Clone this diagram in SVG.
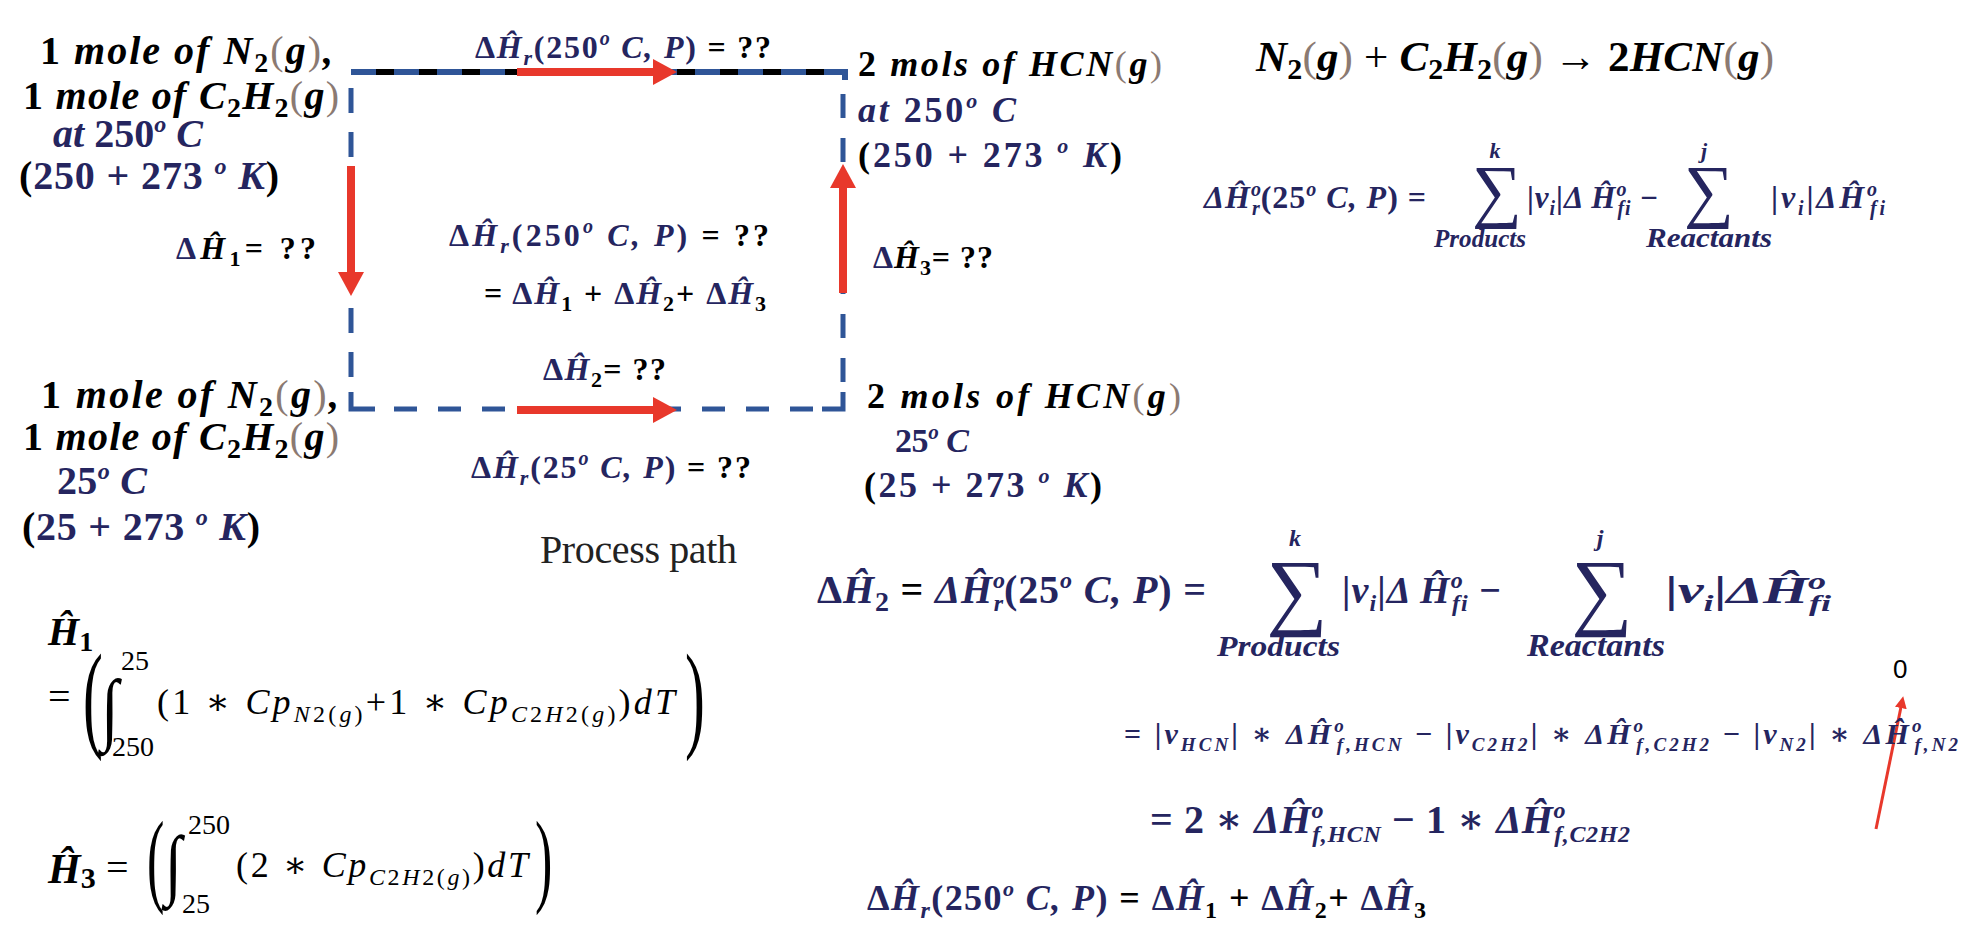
<svg xmlns="http://www.w3.org/2000/svg" width="1970" height="934" viewBox="0 0 1970 934">
<defs>
<style>
.m{font-family:"Liberation Serif","DejaVu Serif",serif;font-weight:bold;font-style:italic}
.r{font-family:"Liberation Serif","DejaVu Serif",serif;font-weight:normal;font-style:italic}
.k{fill:#000}
.n{fill:#25255f}
.b{fill:#8b7a72;font-weight:normal;font-style:normal}
.u{font-style:normal}
.big{font-family:"Liberation Serif","DejaVu Serif",serif;font-weight:normal;font-style:normal}
.dash{fill:none;stroke:#2f5597;stroke-width:5}
.red{fill:none;stroke:#e8382b;stroke-width:8}
</style>
<marker id="ah" markerUnits="userSpaceOnUse" markerWidth="26" markerHeight="26" viewBox="0 0 26 26" refX="2" refY="13" orient="auto"><path d="M0,0 L24,13 L0,26 Z" fill="#e8382b"/></marker>
<marker id="ahs" markerUnits="userSpaceOnUse" markerWidth="12" markerHeight="12" viewBox="0 0 12 12" refX="1" refY="6" orient="auto"><path d="M0,0 L12,6 L0,12 Z" fill="#e8382b"/></marker>
</defs>
<rect width="1970" height="934" fill="#fff"/>

<g id="connectors">
<path class="dash" d="M351,88 V384" stroke-dasharray="25 19"/>
<path class="dash" d="M351,392 V409 H375"/>
<path class="dash" d="M394,409 H820" stroke-dasharray="23 21"/>
<path class="dash" d="M822,409 H843 V392"/>
<path class="dash" d="M843,382 V94" stroke-dasharray="24 20"/>
<path d="M351,72 H845 V80" fill="none" stroke="#2f5597" stroke-width="6"/>
<path d="M376,72 H840" fill="none" stroke="#000" stroke-width="6" stroke-dasharray="18 25"/>
<path class="red" d="M517,72 H655" marker-end="url(#ah)"/>
<path class="red" d="M517,410 H655" marker-end="url(#ah)"/>
<path class="red" d="M351,166 V274" marker-end="url(#ah)"/>
<path class="red" d="M843,293 V186" marker-end="url(#ah)"/>
<path d="M1876,829 L1901,707" fill="none" stroke="#e8382b" stroke-width="3" marker-end="url(#ahs)"/>
</g>

<g id="node-reactants-250">
<text class="m k" x="40" y="64" font-size="40" textLength="293"><tspan class="u">1</tspan> mole of N<tspan class="u" font-size="28" dy="8">2</tspan><tspan class="b" dy="-8">(</tspan>g<tspan class="b">)</tspan>,</text>
<text class="m k" x="23" y="109" font-size="40" textLength="316"><tspan class="u">1</tspan> mole of C<tspan class="u" font-size="28" dy="8">2</tspan><tspan dy="-8">H</tspan><tspan class="u" font-size="28" dy="8">2</tspan><tspan class="b" dy="-8">(</tspan>g<tspan class="b">)</tspan></text>
<text class="m n" x="53" y="147" font-size="40" textLength="150">at <tspan class="u">250</tspan><tspan font-size="24" dy="-15">o</tspan><tspan dy="15"> C</tspan></text>
<text class="m k" x="19" y="189" font-size="40" textLength="260"><tspan class="u">(</tspan><tspan class="n u">250 + 273 </tspan><tspan class="n" font-size="24" dy="-15">o</tspan><tspan class="n" dy="15"> K</tspan><tspan class="u">)</tspan></text>
</g>

<g id="node-reactants-25">
<text class="m k" x="41" y="408" font-size="40" textLength="298"><tspan class="u">1</tspan> mole of N<tspan class="u" font-size="28" dy="8">2</tspan><tspan class="b" dy="-8">(</tspan>g<tspan class="b">)</tspan>,</text>
<text class="m k" x="23" y="450" font-size="40" textLength="316"><tspan class="u">1</tspan> mole of C<tspan class="u" font-size="28" dy="8">2</tspan><tspan dy="-8">H</tspan><tspan class="u" font-size="28" dy="8">2</tspan><tspan class="b" dy="-8">(</tspan>g<tspan class="b">)</tspan></text>
<text class="m n" x="57" y="494" font-size="40" textLength="90"><tspan class="u">25</tspan><tspan font-size="24" dy="-15">o</tspan><tspan dy="15"> C</tspan></text>
<text class="m k" x="22" y="540" font-size="40" textLength="238"><tspan class="u">(</tspan><tspan class="n u">25 + 273 </tspan><tspan class="n" font-size="24" dy="-15">o</tspan><tspan class="n" dy="15"> K</tspan><tspan class="u">)</tspan></text>
</g>

<g id="node-products-250">
<text class="m k" x="858" y="76" font-size="36" textLength="304"><tspan class="u">2</tspan> mols of HCN<tspan class="b">(</tspan>g<tspan class="b">)</tspan></text>
<text class="m n" x="858" y="122" font-size="36" textLength="158">at <tspan class="u">250</tspan><tspan font-size="22" dy="-14">o</tspan><tspan dy="14"> C</tspan></text>
<text class="m k" x="858" y="167" font-size="36" textLength="264"><tspan class="u">(</tspan><tspan class="n u">250 + 273 </tspan><tspan class="n" font-size="22" dy="-14">o</tspan><tspan class="n" dy="14"> K</tspan><tspan class="u">)</tspan></text>
</g>

<g id="node-products-25">
<text class="m k" x="867" y="408" font-size="36" textLength="314"><tspan class="u">2</tspan> mols of HCN<tspan class="b">(</tspan>g<tspan class="b">)</tspan></text>
<text class="m n" x="895" y="452" font-size="34" textLength="74"><tspan class="u">25</tspan><tspan font-size="21" dy="-13">o</tspan><tspan dy="13"> C</tspan></text>
<text class="m k" x="864" y="497" font-size="36" textLength="238"><tspan class="u">(</tspan><tspan class="n u">25 + 273 </tspan><tspan class="n" font-size="22" dy="-14">o</tspan><tspan class="n" dy="14"> K</tspan><tspan class="u">)</tspan></text>
</g>

<g id="edge-labels">
<text class="m n" x="475" y="58" font-size="32" textLength="296"><tspan class="u">Δ</tspan>Ĥ<tspan font-size="22" dy="7">r</tspan><tspan class="u" dy="-7">(250</tspan><tspan font-size="20" dy="-13">o</tspan><tspan dy="13"> C, P</tspan><tspan class="u">)</tspan><tspan class="k u"> = ??</tspan></text>
<text class="m k" x="176" y="259" font-size="32" textLength="140"><tspan class="n u">Δ</tspan>Ĥ<tspan class="u" font-size="22" dy="7">1</tspan><tspan class="u" dy="-7">= ??</tspan></text>
<text class="m k" x="873" y="268" font-size="32" textLength="120"><tspan class="n u">Δ</tspan>Ĥ<tspan class="u" font-size="22" dy="7">3</tspan><tspan class="u" dy="-7">= ??</tspan></text>
<text class="m k" x="543" y="380" font-size="32" textLength="123"><tspan class="n u">Δ</tspan><tspan class="n">Ĥ</tspan><tspan class="u" font-size="22" dy="7">2</tspan><tspan class="u" dy="-7">= ??</tspan></text>
<text class="m n" x="471" y="478" font-size="32" textLength="280"><tspan class="u">Δ</tspan>Ĥ<tspan font-size="22" dy="7">r</tspan><tspan class="u" dy="-7">(25</tspan><tspan font-size="20" dy="-13">o</tspan><tspan dy="13"> C, P</tspan><tspan class="u">)</tspan><tspan class="k u"> = ??</tspan></text>
</g>

<g id="center-note">
<text class="m n" x="449" y="246" font-size="32" textLength="320"><tspan class="u">Δ</tspan>Ĥ<tspan font-size="22" dy="7">r</tspan><tspan class="u" dy="-7">(250</tspan><tspan font-size="20" dy="-13">o</tspan><tspan dy="13"> C, P</tspan><tspan class="u">)</tspan><tspan class="k u"> = ??</tspan></text>
<text class="m n" x="484" y="304" font-size="32" textLength="282"><tspan class="k u">= </tspan><tspan class="u">Δ</tspan>Ĥ<tspan class="u k" font-size="22" dy="7">1</tspan><tspan class="u k" dy="-7"> + </tspan><tspan class="u">Δ</tspan>Ĥ<tspan class="u k" font-size="22" dy="7">2</tspan><tspan class="u k" dy="-7">+ </tspan><tspan class="u">Δ</tspan>Ĥ<tspan class="u k" font-size="22" dy="7">3</tspan></text>
</g>

<g id="title">
<text x="540" y="563" font-family="Liberation Serif, serif" font-size="40" fill="#222" textLength="197">Process path</text>
</g>

<g id="reaction">
<text class="m k" x="1256" y="71" font-size="43" textLength="518">N<tspan class="u" font-size="30" dy="8">2</tspan><tspan class="b" dy="-8">(</tspan>g<tspan class="b">)</tspan><tspan class="u" font-weight="normal"> + </tspan>C<tspan class="u" font-size="30" dy="8">2</tspan><tspan dy="-8">H</tspan><tspan class="u" font-size="30" dy="8">2</tspan><tspan class="b" dy="-8">(</tspan>g<tspan class="b">)</tspan><tspan class="u" font-weight="normal"> → </tspan><tspan class="u">2</tspan>HCN<tspan class="b">(</tspan>g<tspan class="b">)</tspan></text>
</g>

<g id="formula-standard">
<text class="m n" x="1204" y="208" font-size="32" textLength="222">ΔĤ<tspan font-size="20" dy="-12">o</tspan><tspan font-size="20" dx="-10" dy="19">r</tspan><tspan class="u" dy="-7">(25</tspan><tspan font-size="20" dy="-12">o</tspan><tspan dy="12"> C, P</tspan><tspan class="u">) =</tspan></text>
<text class="big n" x="1497" y="214" font-size="70" text-anchor="middle">∑</text>
<text class="m n" x="1495" y="158" font-size="22" text-anchor="middle">k</text>
<text class="m n" x="1434" y="247" font-size="26" textLength="92" lengthAdjust="spacingAndGlyphs">Products</text>
<text class="m n" x="1527" y="208" font-size="31" textLength="131"><tspan class="u">|</tspan>ν<tspan font-size="20" dy="7">i</tspan><tspan class="u" dy="-7">|</tspan>Δ Ĥ<tspan font-size="20" dy="-12">o</tspan><tspan font-size="20" dx="-10" dy="19">fi</tspan><tspan class="u" dy="-7"> −</tspan></text>
<text class="big n" x="1709" y="214" font-size="70" text-anchor="middle">∑</text>
<text class="m n" x="1704" y="158" font-size="22" text-anchor="middle">j</text>
<text class="m n" x="1646" y="247" font-size="27" textLength="126" lengthAdjust="spacingAndGlyphs">Reactants</text>
<text class="m n" x="1771" y="208" font-size="32" textLength="114"><tspan class="u">|</tspan>ν<tspan font-size="20" dy="7">i</tspan><tspan class="u" dy="-7">|</tspan>ΔĤ<tspan font-size="20" dy="-12">o</tspan><tspan font-size="20" dx="-10" dy="19">fi</tspan></text>
</g>

<g id="formula-h2">
<text class="m n" x="817" y="603" font-size="40" textLength="389"><tspan class="u">Δ</tspan>Ĥ<tspan class="u" font-size="28" dy="8">2</tspan><tspan class="u k" dy="-8"> = </tspan>ΔĤ<tspan font-size="24" dy="-15">o</tspan><tspan font-size="24" dx="-12" dy="23">r</tspan><tspan class="u" dy="-8">(25</tspan><tspan font-size="24" dy="-15">o</tspan><tspan dy="15"> C, P</tspan><tspan class="u">) =</tspan></text>
<text class="big n" x="1297" y="619" font-size="86" text-anchor="middle">∑</text>
<text class="m n" x="1295" y="546" font-size="24" text-anchor="middle">k</text>
<text class="m n" x="1217" y="656" font-size="30" textLength="123" lengthAdjust="spacingAndGlyphs">Products</text>
<text class="m n" x="1342" y="603" font-size="38" textLength="159"><tspan class="u">|</tspan>ν<tspan font-size="24" dy="8">i</tspan><tspan class="u" dy="-8">|</tspan>Δ Ĥ<tspan font-size="24" dy="-15">o</tspan><tspan font-size="24" dx="-12" dy="23">fi</tspan><tspan class="u" dy="-8"> −</tspan></text>
<text class="big n" x="1602" y="619" font-size="86" text-anchor="middle">∑</text>
<text class="m n" x="1600" y="546" font-size="24" text-anchor="middle">j</text>
<text class="m n" x="1527" y="656" font-size="31" textLength="138" lengthAdjust="spacingAndGlyphs">Reactants</text>
<text class="m n" x="1665" y="603" font-size="37" textLength="166" lengthAdjust="spacingAndGlyphs"><tspan class="u">|</tspan>ν<tspan font-size="23" dy="8">i</tspan><tspan class="u" dy="-8">|</tspan>ΔĤ<tspan font-size="23" dy="-14">o</tspan><tspan font-size="23" dx="-11" dy="22">fi</tspan></text>
</g>

<g id="formula-expanded">
<text x="1893" y="678" font-family="Liberation Sans, sans-serif" font-size="26" fill="#000">0</text>
<text class="m n" x="1124" y="744" font-size="30" textLength="834"><tspan class="u">= |</tspan>ν<tspan font-size="19" dy="7">HCN</tspan><tspan class="u" dy="-7">| ∗ </tspan>ΔĤ<tspan font-size="19" dy="-12">o</tspan><tspan font-size="19" dx="-10" dy="19">f,HCN</tspan><tspan class="u" dy="-7"> − |</tspan>ν<tspan font-size="19" dy="7">C2H2</tspan><tspan class="u" dy="-7">| ∗ </tspan>ΔĤ<tspan font-size="19" dy="-12">o</tspan><tspan font-size="19" dx="-10" dy="19">f,C2H2</tspan><tspan class="u" dy="-7"> − |</tspan>ν<tspan font-size="19" dy="7">N2</tspan><tspan class="u" dy="-7">| ∗ </tspan>ΔĤ<tspan font-size="19" dy="-12">o</tspan><tspan font-size="19" dx="-10" dy="19">f,N2</tspan></text>
<text class="m n" x="1150" y="833" font-size="40" textLength="480"><tspan class="u">= 2 ∗ </tspan>ΔĤ<tspan font-size="24" dy="-15">o</tspan><tspan font-size="24" dx="-12" dy="24">f,HCN</tspan><tspan class="u" dy="-9"> − 1 ∗ </tspan>ΔĤ<tspan font-size="24" dy="-15">o</tspan><tspan font-size="24" dx="-12" dy="24">f,C2H2</tspan></text>
<text class="m n" x="867" y="910" font-size="36" textLength="559"><tspan class="u">Δ</tspan>Ĥ<tspan font-size="24" dy="8">r</tspan><tspan class="u" dy="-8">(250</tspan><tspan font-size="22" dy="-14">o</tspan><tspan dy="14"> C, P</tspan><tspan class="u">)</tspan><tspan class="k u"> = </tspan><tspan class="u">Δ</tspan>Ĥ<tspan class="u k" font-size="24" dy="8">1</tspan><tspan class="u k" dy="-8"> + </tspan><tspan class="u">Δ</tspan>Ĥ<tspan class="u k" font-size="24" dy="8">2</tspan><tspan class="u k" dy="-8">+ </tspan><tspan class="u">Δ</tspan>Ĥ<tspan class="u k" font-size="24" dy="8">3</tspan></text>
</g>

<g id="formula-h1">
<text class="m k" x="48" y="645" font-size="40">Ĥ<tspan class="u" font-size="28" dy="6">1</tspan></text>
<text class="big k" x="48" y="710" font-size="40">=</text>
<text class="big k" font-size="119" transform="translate(83,736) scale(0.5,1)">(</text>
<text class="big k" font-size="80" transform="translate(101,735) scale(0.8,1)">∫</text>
<text class="big k" x="121" y="670" font-size="28">25</text>
<text class="big k" x="112" y="756" font-size="28">250</text>
<text class="r k" x="157" y="714" font-size="36" textLength="518"><tspan class="u">(1 ∗ </tspan>Cp<tspan font-size="24" dy="8">N<tspan class="u">2(</tspan>g<tspan class="u">)</tspan></tspan><tspan class="u" dy="-8">+1 ∗ </tspan>Cp<tspan font-size="24" dy="8">C<tspan class="u">2</tspan>H<tspan class="u">2(</tspan>g<tspan class="u">)</tspan></tspan><tspan class="u" dy="-8">)</tspan>dT</text>
<text class="big k" font-size="119" transform="translate(685,736) scale(0.5,1)">)</text>
</g>

<g id="formula-h3">
<text class="m k" x="48" y="883" font-size="42">Ĥ<tspan class="u" font-size="30" dy="5">3</tspan></text>
<text class="big k" x="106" y="881" font-size="40">=</text>
<text class="big k" font-size="104" transform="translate(147,893) scale(0.5,1)">(</text>
<text class="big k" font-size="78" transform="translate(165,890) scale(0.8,1)">∫</text>
<text class="big k" x="188" y="834" font-size="28">250</text>
<text class="big k" x="182" y="913" font-size="28">25</text>
<text class="r k" x="236" y="877" font-size="36" textLength="292"><tspan class="u">(2 ∗ </tspan>Cp<tspan font-size="24" dy="8">C<tspan class="u">2</tspan>H<tspan class="u">2(</tspan>g<tspan class="u">)</tspan></tspan><tspan class="u" dy="-8">)</tspan>dT</text>
<text class="big k" font-size="104" transform="translate(535,893) scale(0.5,1)">)</text>
</g>
</svg>
